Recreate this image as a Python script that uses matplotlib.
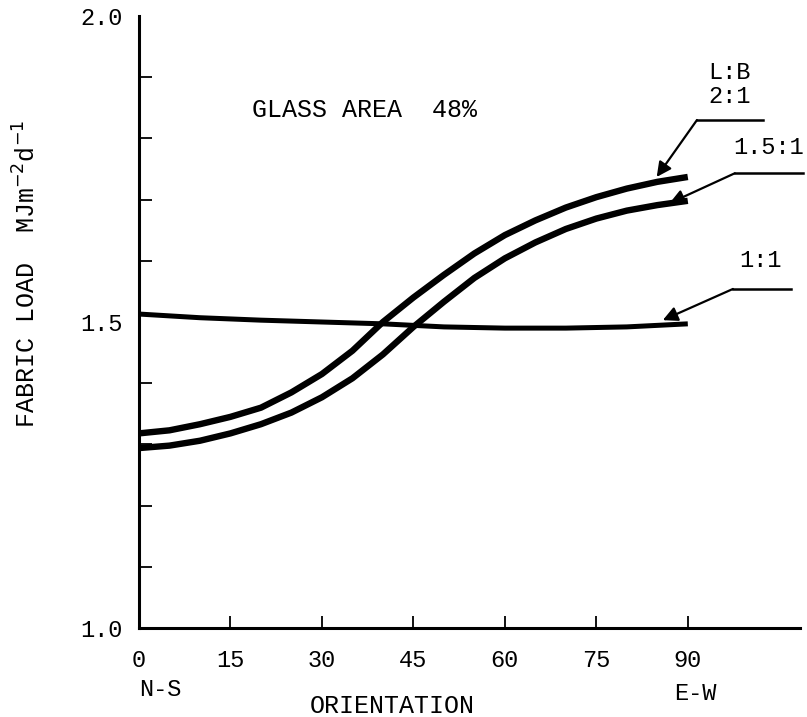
import numpy as np
import matplotlib
matplotlib.use("Agg")
import matplotlib.pyplot as plt

plt.rcParams['font.family'] = ['Liberation Mono', 'DejaVu Sans Mono']

# orientation in degrees from N-S
orient = [0, 5, 10, 15, 20, 25, 30, 35, 40, 45, 50, 55, 60, 65, 70, 75, 80, 85, 90]
# fabric load, MJ m-2 d-1
load_2_1 = [1.318, 1.323, 1.333, 1.345, 1.360, 1.385, 1.415, 1.453, 1.500, 1.540,
            1.577, 1.612, 1.642, 1.666, 1.687, 1.704, 1.718, 1.729, 1.737]
load_15_1 = [1.294, 1.298, 1.306, 1.318, 1.333, 1.352, 1.377, 1.408, 1.447, 1.492,
             1.533, 1.572, 1.604, 1.630, 1.652, 1.669, 1.682, 1.691, 1.698]
orient_1_1 = [0, 10, 20, 30, 40, 50, 60, 70, 80, 90]
load_1_1 = [1.513, 1.507, 1.503, 1.500, 1.497, 1.492, 1.490, 1.490, 1.492, 1.497]

xticks = [0, 15, 30, 45, 60, 75, 90]
yticks_minor = [1.1, 1.2, 1.3, 1.4, 1.5, 1.6, 1.7, 1.8, 1.9]

W, H = 807, 717
fig = plt.figure(figsize=(W / 100, H / 100), dpi=100)
ax = fig.add_axes([139 / W, 1 - 628 / H, (800 - 139) / W, (628 - 16) / H])
ax.set_xlim(0, 108.4)
ax.set_ylim(1.0, 2.0)

for s in ['top', 'right']:
    ax.spines[s].set_visible(False)
for s in ['left', 'bottom']:
    ax.spines[s].set_linewidth(2.2)

kw = dict(color='black', solid_capstyle='butt', solid_joinstyle='round', clip_on=False)
ax.plot(orient, load_2_1, lw=4.6, **kw)
ax.plot(orient, load_15_1, lw=4.6, **kw)
ax.plot(orient_1_1, load_1_1, lw=3.6, **kw)

ax.set_xticks(xticks)
ax.set_xticklabels([str(t) for t in xticks])
ax.set_yticks([1.0, 1.5, 2.0])
ax.set_yticklabels(['1.0', '1.5', '2.0'])
ax.set_yticks(yticks_minor, minor=True)
ax.tick_params(axis='x', direction='in', length=9, width=1.3, pad=15, labelsize=17)
ax.tick_params(axis='y', which='major', direction='in', length=0, pad=12, labelsize=17)
ax.tick_params(axis='y', which='minor', direction='in', length=9, width=1.3)

fig.text(160 / W, 1 - 690 / H, 'N-S', ha='center', va='center', fontsize=17)
fig.text(695 / W, 1 - 693 / H, 'E-W', ha='center', va='center', fontsize=17)
fig.text(392 / W, 1 - 706 / H, 'ORIENTATION', ha='center', va='center', fontsize=18)
fig.text(27 / W, 1 - 274 / H, r'FABRIC LOAD  MJm$^{-2}$d$^{-1}$', rotation=90,
         ha='center', va='center', fontsize=18)

ax.text(37, 1.846, 'GLASS AREA  48%', ha='center', va='center', fontsize=18)

# labelled leaders: (text, text pos, elbow, end of bar, arrow tip)
labels = [
    ('L:B\n2:1', (96.8, 1.850), (91.5, 1.830), (102.3, 1.830), (84.9, 1.737)),
    ('1.5:1', (103.2, 1.767), (97.7, 1.743), (108.9, 1.743), (87.0, 1.694)),
    ('1:1', (101.9, 1.581), (97.4, 1.554), (107.0, 1.554), (85.9, 1.503)),
]
for txt, tpos, elbow, end, tip in labels:
    ax.plot([elbow[0], end[0]], [elbow[1], end[1]], color='black', lw=1.8, clip_on=False)
    ax.annotate('', xy=tip, xytext=elbow,
                arrowprops=dict(arrowstyle='-|>', color='black', lw=1.6,
                                mutation_scale=22, shrinkA=0, shrinkB=0),
                annotation_clip=False)
    ax.text(tpos[0], tpos[1], txt, ha='center', va='bottom', fontsize=17,
            linespacing=1.05)

fig.savefig('out.png', dpi=100)
